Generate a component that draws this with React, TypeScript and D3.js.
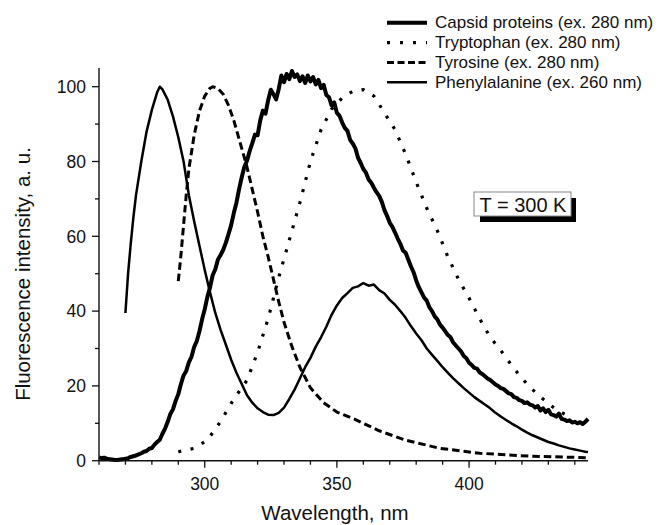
import React from "react";
import * as d3 from "d3";

// ---------- data ----------
const capsidStart = 260; // capsid sampled every 1 nm from 260 to 445
const capsidValues = [
  0.9, 0.7, 0.8, 0.5, 0.4, 0.3, 0.2, 0.2, 0.3, 0.4,
  0.5, 0.7, 1.0, 1.2, 1.4, 1.7, 2.0, 2.4, 2.6, 3.2,
  3.4, 4.3, 5.0, 5.6, 7.2, 8.6, 10.4, 12.5, 13.8, 16.0,
  17.8, 20.5, 22.8, 24.0, 26.3, 27.8, 30.4, 32.0, 34.6, 37.8,
  40.5, 43.8, 46.3, 49.6, 51.2, 53.8, 55.0, 56.4, 58.3, 60.6,
  63.0, 66.2, 69.0, 72.6, 75.8, 78.6, 80.2, 82.8, 84.9, 87.2,
  87.0, 91.0, 93.6, 92.8, 96.4, 99.2, 98.0, 96.6, 99.4, 103.0,
  101.2, 103.4, 102.0, 104.2, 102.6, 103.3, 101.5, 102.8, 101.0, 103.0,
  101.4, 102.6, 100.6, 101.8, 99.6, 100.5, 97.8, 97.2, 95.0, 95.8,
  93.0, 92.2, 90.4, 89.0, 88.2, 85.8, 84.8, 83.5, 81.0, 79.6,
  78.0, 77.0, 75.2, 74.3, 73.0, 71.8, 70.8, 69.2, 67.0, 65.4,
  63.6, 62.5, 61.0, 59.4, 58.0, 56.2, 55.6, 53.8, 52.0, 50.4,
  48.2, 46.4, 45.0, 43.6, 42.8, 41.0, 40.0, 38.6, 37.8, 36.4,
  35.6, 34.6, 33.6, 33.0, 31.6, 30.8, 30.0, 29.2, 28.0, 27.4,
  26.2, 25.6, 24.8, 24.6, 23.6, 23.2, 22.6, 22.0, 21.6, 21.0,
  20.4, 20.0, 19.4, 19.2, 18.6, 18.0, 17.8, 17.0, 16.8, 16.2,
  16.0, 15.4, 15.6, 15.0, 14.8, 14.2, 14.6, 13.4, 14.0, 13.0,
  13.6, 12.4, 12.2, 11.8, 12.6, 11.2, 11.0, 10.6, 10.8, 10.2,
  10.4, 10.0, 10.3, 9.8, 10.4, 11.2,
];

const tryptophanWl = [290, 296, 301, 306, 311, 316, 320, 324, 328, 332, 336, 340, 344, 348, 352, 356, 360, 364, 368, 372, 376, 380, 384, 388, 392, 396, 400, 404, 408, 412, 416, 420, 424, 428, 432, 436, 438];
const tryptophanValues = [2.4, 3.3, 5.5, 10.5, 16.5, 21.5, 29, 38, 49, 59, 69, 80, 88.5, 94, 97, 98.8, 99.2, 97.5, 93, 88.5, 82, 74.5, 67.5, 61.5, 54.5, 48.5, 43.5, 38, 33, 29.5, 25.6, 22, 19, 16.5, 14.2, 12.5, 11.8];

const tyrosineWl = [290, 291, 292, 293, 294, 296, 298, 300, 302, 303, 305, 307, 309, 311, 313, 316, 318, 320, 322, 324, 326, 328, 330, 333, 336, 340, 345, 350, 357, 366, 376, 389, 404, 423, 445];
const tyrosineValues = [48, 55, 63, 71, 78, 87, 93.5, 97.5, 99.6, 100, 99.5, 98, 95, 91, 86, 78.5, 72.5, 66.5, 60, 54.5, 48.5, 42.5, 37, 30.5, 25, 19.5, 15.5, 13, 11, 8, 5.5, 3.3, 2, 1.2, 0.8];

const pheWl = [270, 271, 272, 273, 274, 276, 278, 280, 282, 283, 284, 286, 288, 290, 292, 294, 296, 298, 300, 302, 304, 306, 308, 310, 312, 314, 316, 318, 320, 322, 324, 326, 328, 330, 332, 334, 336, 338, 340, 342, 344, 346, 348, 350, 352, 354, 356, 358, 360, 362, 364, 366, 368, 370, 372, 374, 376, 378, 380, 382, 384, 386, 388, 390, 392, 394, 396, 398, 400, 402, 404, 406, 408, 410, 412, 414, 416, 418, 420, 422, 424, 426, 428, 430, 432, 434, 436, 438, 440, 442, 444, 445];
const pheValues = [39.5, 50, 58, 65, 71, 80, 88, 93.8, 98.5, 100, 99.3, 96.5, 92, 86.5, 80, 71, 64, 57.5, 51, 45, 39.5, 35, 31, 27, 23.5, 20.5, 17.5, 15.5, 14, 13, 12.3, 12.2, 12.8, 14.2, 16.5, 19, 22, 25, 27.5, 30.5, 33, 35.8, 39, 41.5, 43.5, 44.8, 46.2, 46.6, 47.5, 46.8, 47.1, 45.6, 44.7, 43, 41.7, 40, 38.2, 36, 34, 32.2, 30, 28.3, 26.7, 25, 23.5, 22, 20.7, 19.4, 18.2, 17, 16, 15, 14, 12.8, 11.8, 10.9, 10, 9.2, 8.3, 7.5, 6.8, 6.2, 5.6, 5, 4.6, 4.1, 3.7, 3.3, 3, 2.7, 2.4, 2.3];

const xMajorTicks = [300, 350, 400];
const xMinorTicks = [260, 270, 280, 290, 310, 320, 330, 340, 360, 370, 380, 390, 410, 420, 430, 440];
const yMajorTicks = [0, 20, 40, 60, 80, 100];
const yMinorTicks = [10, 30, 50, 70, 90];

const legendLabels = [
  "Capsid proteins (ex. 280 nm)",
  "Tryptophan (ex. 280 nm)",
  "Tyrosine (ex. 280 nm)",
  "Phenylalanine (ex. 260 nm)",
];

// ---------- layout ----------
const W = 659;
const H = 525;
const FONT = "'Liberation Sans', Arial, Helvetica, sans-serif";

const x = d3.scaleLinear().domain([260, 445]).range([99, 588]);
const y = d3.scaleLinear().domain([0, 105]).range([460.7, 68]);

const line = d3
  .line<[number, number]>()
  .x((d) => x(d[0]))
  .y((d) => y(d[1]));

const zip = (a: number[], b: number[]) => a.map((v, i) => [v, b[i]] as [number, number]);

const capsid = capsidValues.map((v, i) => [capsidStart + i, v] as [number, number]);
const tryptophan = zip(tryptophanWl, tryptophanValues);
const tyrosine = zip(tyrosineWl, tyrosineValues);
const phe = zip(pheWl, pheValues);

const styles = [
  { width: 4, dash: undefined as string | undefined },
  { width: 3.2, dash: "3,9.5" },
  { width: 3, dash: "7.5,4" },
  { width: 2.5, dash: undefined as string | undefined },
];

export default function App() {
  const series = [capsid, tryptophan, tyrosine, phe];
  const y0 = y(0);
  const x0 = x(260);
  return (
    <svg
      width={W}
      height={H}
      style={{ position: "absolute", left: 0, top: 0, background: "#fff" }}
      fontFamily={FONT}
    >
      <rect x={0} y={0} width={W} height={H} fill="#fff" />

      {/* curves */}
      {series.map((s, i) => (
        <path
          key={i}
          d={line(s) || ""}
          fill="none"
          stroke="#000"
          strokeWidth={styles[i].width}
          strokeDasharray={styles[i].dash}
          strokeLinejoin="round"
        />
      ))}

      {/* axes */}
      <line x1={x0} x2={x0} y1={y(105)} y2={y0} stroke="#111" strokeWidth={1.4} />
      <line x1={x0} x2={x(445)} y1={y0} y2={y0} stroke="#111" strokeWidth={1.4} />
      {yMajorTicks.map((t) => (
        <g key={"ym" + t}>
          <line x1={x0 - 7} x2={x0} y1={y(t)} y2={y(t)} stroke="#111" strokeWidth={1.3} />
          <text x={x0 - 13} y={y(t)} dy="0.36em" textAnchor="end" fontSize={17.5} fill="#111">
            {t}
          </text>
        </g>
      ))}
      {yMinorTicks.map((t) => (
        <line key={"yn" + t} x1={x0 - 4} x2={x0} y1={y(t)} y2={y(t)} stroke="#111" strokeWidth={1.3} />
      ))}
      {xMajorTicks.map((t) => (
        <g key={"xm" + t}>
          <line x1={x(t)} x2={x(t)} y1={y0} y2={y0 + 7} stroke="#111" strokeWidth={1.3} />
          <text x={x(t)} y={490} textAnchor="middle" fontSize={17.5} fill="#111">
            {t}
          </text>
        </g>
      ))}
      {xMinorTicks.map((t) => (
        <line key={"xn" + t} x1={x(t)} x2={x(t)} y1={y0} y2={y0 + 4} stroke="#111" strokeWidth={1.3} />
      ))}

      {/* axis titles */}
      <text x={335} y={520} textAnchor="middle" fontSize={20.5} fill="#111">
        Wavelength, nm
      </text>
      <text
        transform="translate(30,274) rotate(-90)"
        textAnchor="middle"
        fontSize={20.5}
        fill="#111"
      >
        Fluorescence intensity, a. u.
      </text>

      {/* legend */}
      {legendLabels.map((lab, i) => {
        const base = 28.3 + i * 19.8;
        return (
          <g key={lab}>
            <line
              x1={387}
              x2={427}
              y1={base - 5.5}
              y2={base - 5.5}
              stroke="#000"
              strokeWidth={styles[i].width}
              strokeDasharray={i === 1 ? "3,10" : i === 2 ? "7,3.5" : undefined}
            />
            <text x={435} y={base} fontSize={17} fill="#111">
              {lab}
            </text>
          </g>
        );
      })}

      {/* T = 300 K box */}
      <rect x={480} y={198} width={96} height={24} fill="#000" />
      <rect x={474} y={192} width={97} height={24} fill="#fff" stroke="#888" strokeWidth={1} />
      <text x={523} y={212} textAnchor="middle" fontSize={20} fill="#111">
        T = 300 K
      </text>
    </svg>
  );
}
